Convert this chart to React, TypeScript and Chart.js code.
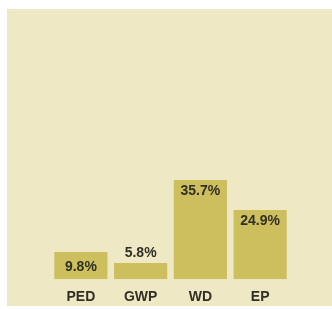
import React, { useEffect, useRef } from "react";
import { Chart, registerables } from "chart.js";

Chart.register(...registerables);

const categories = ["PED", "GWP", "WD", "EP"];
const values = [9.8, 5.8, 35.7, 24.9];
const valueLabels = ["9.8%", "5.8%", "35.7%", "24.9%"];

const PANEL = "#EFE8C4";
const BAR = "#CDBE5E";
const TEXT = "#2F2F25";
const FONT = "'Liberation Sans', Arial, sans-serif";

const panelPlugin = {
  id: "panel",
  beforeDraw(chart: any) {
    const ctx = chart.ctx;
    ctx.save();
    ctx.fillStyle = "#ffffff";
    ctx.fillRect(0, 0, chart.width, chart.height);
    ctx.fillStyle = PANEL;
    ctx.fillRect(7, 9, chart.width - 7, 297);
    ctx.restore();
  },
};

const labelPlugin = {
  id: "valueLabels",
  afterDatasetsDraw(chart: any) {
    const ctx = chart.ctx;
    const meta = chart.getDatasetMeta(0);
    ctx.save();
    ctx.font = `bold 14px ${FONT}`;
    ctx.fillStyle = TEXT;
    ctx.textAlign = "center";
    ctx.textBaseline = "middle";
    meta.data.forEach((bar: any, i: number) => {
      const h = bar.base - bar.y;
      let y;
      if (h > 40) y = bar.y + 11;
      else if (h > 20) y = bar.y + 15;
      else y = bar.y - 10;
      ctx.fillText(valueLabels[i], bar.x, y);
    });
    ctx.restore();
  },
};

export default function App() {
  const ref = useRef<HTMLCanvasElement>(null);
  useEffect(() => {
    const chart = new Chart(ref.current!, {
      type: "bar",
      data: {
        labels: categories,
        datasets: [
          {
            data: values,
            backgroundColor: BAR,
            borderWidth: 0,
            barPercentage: 0.89,
            categoryPercentage: 1,
          },
        ],
      },
      options: {
        responsive: false,
        animation: false,
        layout: { padding: { left: 51, right: 42, top: 168, bottom: -7 } },
        plugins: { legend: { display: false }, tooltip: { enabled: false } },
        scales: {
          x: {
            grid: { display: false, drawTicks: false },
            border: { display: false },
            ticks: {
              padding: 10,
              color: TEXT,
              font: { family: FONT, size: 14, weight: "bold" },
            },
          },
          y: {
            display: false,
            min: 0,
            max: 40,
          },
        },
      },
      plugins: [panelPlugin, labelPlugin],
    });
    return () => chart.destroy();
  }, []);
  return (
    <div style={{ position: "fixed", left: 0, top: 0 }}>
      <canvas ref={ref} width={332} height={309} />
    </div>
  );
}
